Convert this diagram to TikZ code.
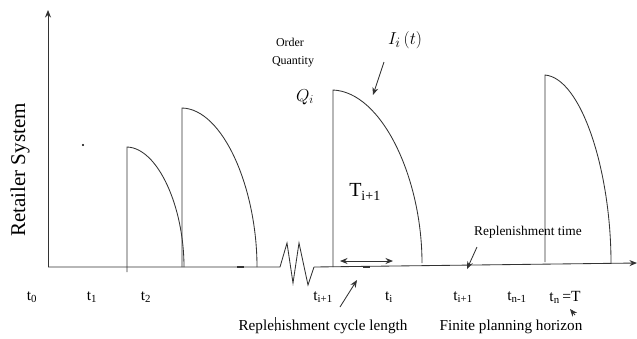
\documentclass[tikz,border=0pt]{standalone}
\usepackage{fontspec}
\setmainfont{Liberation Serif}
\usetikzlibrary{arrows.meta}
\begin{document}
\begin{tikzpicture}[x=1pt,y=-1pt,
  ln/.style={draw=black!80,line width=0.85pt},
  arr/.style={ln,-{Stealth[length=7.5pt,width=6pt]}},
  lbl/.style={inner sep=0pt,font=\fontsize{15.5}{17}\selectfont},
  sml/.style={inner sep=0pt,font=\fontsize{12}{14}\selectfont},
  mid/.style={inner sep=0pt,font=\fontsize{15.2}{17}\selectfont}]
\useasboundingbox (0,0) rectangle (637,338);
% axes
\coordinate (o) at (48,267);
\coordinate (ytop) at (48,10);
\draw[arr] (o) -- (ytop);
\coordinate (z0) at (280,267);
\coordinate (z5) at (314,267);
\coordinate (xend) at (637,263);
\draw[ln] (o) -- (z0) -- (287,243) -- (293,283) -- (299,243) -- (308,285) -- (z5);
\draw[arr] (z5) -- (xend);
% stray marks
\draw[line width=1.6pt,black!80] (237,267) -- (244,267);
\draw[line width=1.4pt,black!80] (363,267) -- (370,267);
\fill[black] (83,145) circle (1.1pt);
% curves
\draw[ln] (127,272) -- (127,147) .. controls (158,148) and (184,207) .. (184,267);
\draw[ln] (182,267) -- (182,108) .. controls (223,109) and (257,188) .. (257,267);
\draw[ln] (333,267) -- (333,90) .. controls (382,92) and (422,178) .. (422,263);
\draw[ln] (545,262) -- (545,75) .. controls (581,78) and (611,170) .. (611,263);
% labels
\node[rotate=90,inner sep=0pt,font=\fontsize{21}{23}\selectfont] (ry) at (20,170) {Retailer System};
\node[sml] (ord) at (290,42) {Order};
\node[sml] (qty) at (293,62) {Quantity};
\node[inner sep=0pt,font=\fontsize{18}{20}\selectfont] (q) at (305,97) {$Q_i$};
\node[inner sep=0pt,font=\fontsize{19}{21}\selectfont] (it) at (405,40) {$I_i\,(t)$};
\coordinate (itA) at (384,62);
\coordinate (itB) at (373,95);
\draw[arr] (itA) -- (itB);
\node[inner sep=0pt,font=\fontsize{20}{22}\selectfont] (T) at (365,192) {T\textsubscript{i+1}};
% cycle double arrow
\coordinate (da) at (340,261);
\coordinate (db) at (393,261);
\draw[ln,{Stealth[length=7.5pt,width=6pt]}-{Stealth[length=7.5pt,width=6pt]}] (da) -- (db);
% replenishment time
\node[inner sep=0pt,font=\fontsize{13.4}{15}\selectfont] (rt) at (528,232) {Replenishment time};
\coordinate (rtA) at (477,247);
\coordinate (rtB) at (467,269);
\draw[arr] (rtA) -- (rtB);
% time labels
\node[lbl] (t0) at (32,297) {t\textsubscript{0}};
\node[lbl] (t1) at (92,297) {t\textsubscript{1}};
\node[lbl] (t2) at (146,297) {t\textsubscript{2}};
\node[lbl] (ta) at (323,297) {t\textsubscript{i+1}};
\node[lbl] (tb) at (389,297) {t\textsubscript{i}};
\node[lbl] (tc) at (463,297) {t\textsubscript{i+1}};
\node[lbl] (td) at (517,297) {t\textsubscript{n-1}};
\node[lbl] (te) at (565,297) {t\textsubscript{n}\,=T};
% bottom labels
\node[mid] (rcl) at (323,327) {Replenishment cycle length};
\coordinate (rcA) at (340,307);
\coordinate (rcB) at (357,280);
\draw[arr] (rcA) -- (rcB);
\draw[black!80,line width=0.6pt] (275,317) -- (275,331);
\node[mid] (fph) at (511,327) {Finite planning horizon};
\coordinate (fA) at (575,315);
\coordinate (fB) at (570,309);
\draw[arr] (fA) -- (fB);
\end{tikzpicture}
\end{document}
